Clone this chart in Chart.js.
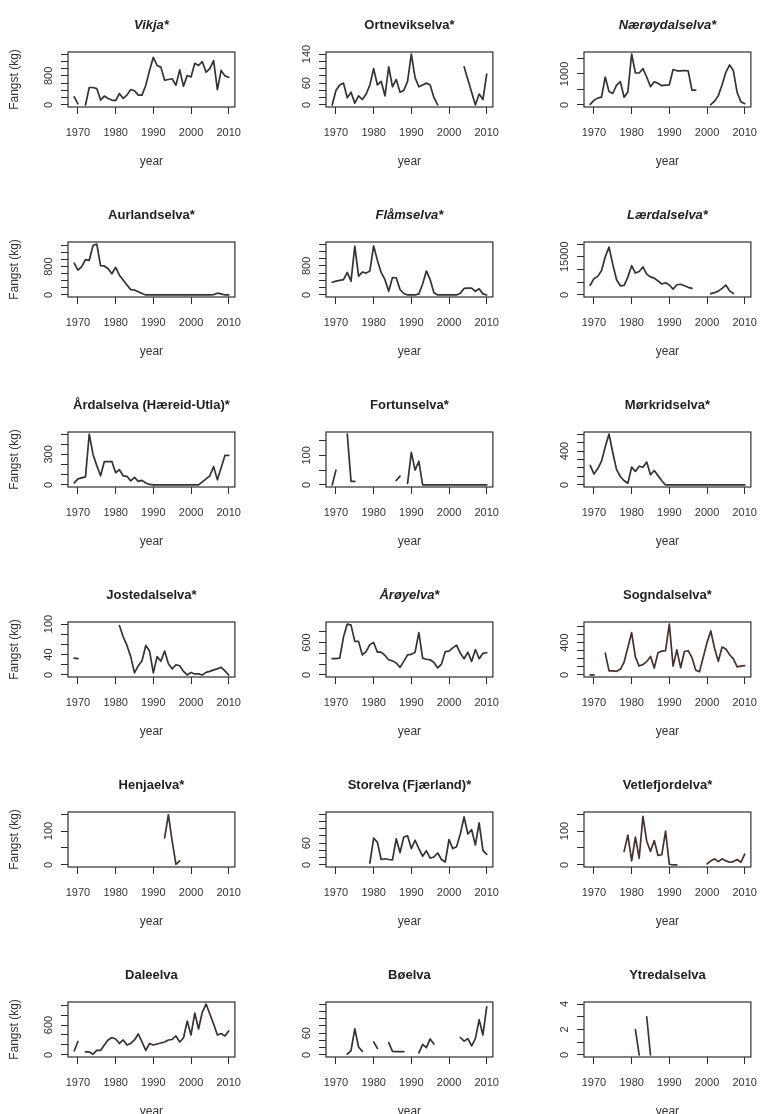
<!DOCTYPE html>
<html><head><meta charset="utf-8">
<script src="https://cdn.jsdelivr.net/npm/chart.js@4.4.1/dist/chart.umd.min.js"></script>
<style>
html,body{margin:0;padding:0;background:#fff;overflow:hidden;width:763px;height:1114px}
#wrap{position:relative;width:763px;height:1114px;overflow:hidden;background:#fff}
#wrap canvas{position:absolute}
</style></head><body><div id="wrap"></div>
<script>
const years = [1969,1970,1971,1972,1973,1974,1975,1976,1977,1978,1979,1980,1981,1982,1983,1984,1985,1986,1987,1988,1989,1990,1991,1992,1993,1994,1995,1996,1997,1998,1999,2000,2001,2002,2003,2004,2005,2006,2007,2008,2009,2010];
const xTicks = [1970,1980,1990,2000,2010];

const riverNames = ["Vikja*","Ortnevikselva*","Nærøydalselva*","Aurlandselva*","Flåmselva*","Lærdalselva*","Årdalselva (Hæreid-Utla)*","Fortunselva*","Mørkridselva*","Jostedalselva*","Årøyelva*","Sogndalselva*","Henjaelva*","Storelva (Fjærland)*","Vetlefjordelva*","Daleelva","Bøelva","Ytredalselva"];

const vikja = [225,30,null,0,480,480,450,135,245,180,135,120,315,180,270,425,390,270,270,540,950,1310,1085,1040,680,700,720,540,965,515,810,770,1145,1085,1190,900,1000,1220,420,950,800,760];
const ortnevik = [0,40,55,60,20,35,5,25,15,30,55,100,55,65,25,105,50,70,35,40,65,140,75,50,55,60,55,20,0,null,null,null,null,null,null,105,70,35,0,30,15,85];
const naeroy = [20,150,220,250,900,430,370,640,750,250,420,1640,1030,1030,1170,900,590,750,700,620,640,650,1140,1100,1100,1110,1100,480,480,null,null,null,10,120,300,650,1050,1290,1100,400,100,40];
const aurland = [900,700,800,1000,980,1400,1440,830,820,740,600,780,560,420,280,150,140,90,40,0,0,0,0,0,0,0,0,0,0,0,0,0,0,0,0,0,0,10,50,30,0,0];
const flam = [350,380,400,420,620,380,1340,520,630,600,660,1350,950,620,420,100,480,470,150,40,0,0,0,30,300,660,420,60,0,0,0,0,0,0,50,180,190,190,100,170,30,0];
const laerdal = [3800,6400,7300,9500,15000,18800,12000,6000,3600,3800,7000,11500,8600,9200,11000,8200,7100,6600,5500,4300,4800,3900,2300,4000,4200,3600,3000,2600,null,null,null,null,500,900,1500,2600,3900,1600,600,null,null,null];
const ardal = [20,60,70,80,500,300,190,90,230,230,230,120,150,90,85,40,75,35,45,20,5,0,0,0,0,0,0,0,0,0,0,0,0,0,30,60,90,180,50,170,290,290];
const fortun = [0,50,null,null,172,12,12,null,null,null,null,null,null,null,null,null,null,15,30,null,5,110,50,80,0,0,0,0,0,0,0,0,0,0,0,0,0,0,0,0,0,0];
const morkrid = [230,130,190,280,450,600,380,180,100,50,20,210,160,220,210,270,120,170,110,50,0,0,0,0,0,0,0,0,0,0,0,0,0,0,0,0,0,0,0,0,0,0];
const josted = [33,32,null,null,null,null,null,null,null,null,null,null,97,75,58,36,4,18,28,58,47,4,36,27,47,22,12,20,18,7,0,5,2,2,0,5,7,10,12,15,8,0];
const aroy = [300,300,310,700,940,920,620,620,370,430,560,600,420,420,360,280,260,220,140,250,370,380,420,780,310,290,280,230,130,200,430,440,500,550,400,300,420,250,470,300,400,410];
const sogndal = [0,0,null,null,270,50,50,45,70,160,340,525,220,110,130,165,230,85,275,295,300,630,110,310,90,290,300,215,60,40,220,400,545,330,170,345,320,250,200,100,110,115];
const henja = [null,null,null,null,null,null,null,null,null,null,null,null,null,null,null,null,null,null,null,null,null,null,null,null,80,148,70,2,12,null,null,null,null,null,null,null,null,null,null,null,null,null];
const storelva = [null,null,null,null,null,null,null,null,null,null,5,74,62,15,17,15,14,72,34,77,80,45,68,45,24,39,19,22,33,15,8,70,45,50,85,132,85,97,55,116,40,29];
const vetlefjord = [null,null,null,null,null,null,null,null,null,40,88,12,82,20,143,70,40,72,28,30,100,2,0,0,null,null,null,null,null,null,null,3,12,18,10,18,12,8,10,16,8,32];
const dale = [80,270,null,60,60,15,90,90,200,300,350,320,230,300,200,230,300,420,260,90,230,200,220,240,260,300,310,380,260,340,680,400,840,520,860,1020,820,620,400,430,380,480];
const boelva = [null,null,null,null,2,12,72,22,10,null,null,36,18,null,null,34,10,9,9,9,null,null,null,6,29,20,44,30,null,null,null,null,null,null,48,38,45,25,45,97,55,132];
const ytredal = [null,null,null,null,null,null,null,null,null,null,null,null,2,0,null,3,0,null,null,null,null,null,null,null,null,null,null,null,null,null,null,null,null,null,null,null,null,null,null,null,null,null];

const allSeries = [vikja,ortnevik,naeroy,aurland,flam,laerdal,ardal,fortun,morkrid,josted,aroy,sogndal,henja,storelva,vetlefjord,dale,boelva,ytredal];

const yTickStep = [200,20,500,200,200,5000,100,50,100,20,200,100,50,20,50,200,20,1];
const yTickTop  = [1400,140,1500,1400,1400,20000,500,150,600,100,800,600,150,140,150,1000,140,4];
const yTickLabels = [[0,800],[0,60,140],[0,1000],[0,800],[0,800],[0,15000],[0,300],[0,100],[0,400],[0,40,100],[0,600],[0,400],[0,100],[0,60],[0,100],[0,600],[0,60],[0,2,4]];

const italicTitle = [true,false,true,false,true,true,false,false,false,false,true,false,false,false,false,false,false,false];
const lineColor = ['#333','#333','#333','#333','#333','#333','#333','#333','#333','#333','#333','#4a302c','#4a302c','#333','#4a302c','#3d302e','#333','#45302c'];

const FONT = '"Liberation Sans", Arial, Helvetica, sans-serif';
const INK = '#2e2e2e';

const framePlugin = {
  id: 'frame',
  afterDraw(chart, args, opts) {
    const ctx = chart.ctx, a = chart.chartArea, ys = chart.scales.y;
    ctx.save();
    ctx.strokeStyle = INK; ctx.lineWidth = 1.2;
    ctx.strokeRect(a.left, a.top, a.right - a.left, a.bottom - a.top);
    ctx.fillStyle = '#333';
    ctx.font = '11px ' + FONT;
    ctx.textAlign = 'center'; ctx.textBaseline = 'middle';
    opts.labels.forEach(v => {
      const py = ys.getPixelForValue(v);
      ctx.save(); ctx.translate(a.left - 19, py); ctx.rotate(-Math.PI / 2);
      ctx.fillText(String(v), 0, 0); ctx.restore();
    });
    ctx.fillStyle = '#222';
    ctx.font = (opts.italic ? 'italic ' : '') + 'bold 13px ' + FONT;
    ctx.fillText(opts.title, (a.left + a.right) / 2, a.top - 27);
    ctx.restore();
  }
};

const wrap = document.getElementById('wrap');
const xLo = Math.min(...years), xHi = Math.max(...years);
const xPad = 0.04 * (xHi - xLo);

allSeries.forEach((vals, i) => {
  const r = Math.floor(i / 3), c = i % 3;
  const cv = document.createElement('canvas');
  cv.width = 254; cv.height = 180;
  cv.style.left = (258 * c) + 'px'; cv.style.top = (190 * r) + 'px';
  wrap.appendChild(cv);
  const ticksY = [];
  for (let v = 0; v <= yTickTop[i] + 1e-9; v += yTickStep[i]) ticksY.push(v);
  const nums = vals.filter(v => v !== null);
  const lo = Math.min(...nums, ticksY[0]);
  const hi = Math.max(...nums, ticksY[ticksY.length - 1]);
  const yPad = 0.04 * (hi - lo);
  const gridOpts = { display: true, drawOnChartArea: false, drawTicks: true, tickLength: 7, color: INK, lineWidth: 1 };
  new Chart(cv, {
    type: 'line',
    data: { datasets: [{
      data: years.map((y, k) => ({ x: y, y: vals[k] })),
      borderColor: lineColor[i], borderWidth: 1.7, pointRadius: 0, pointHoverRadius: 0,
      spanGaps: false, tension: 0, fill: false, borderJoinStyle: 'round', borderCapStyle: 'round'
    }]},
    options: {
      responsive: false, animation: false, devicePixelRatio: 1, events: [],
      layout: { padding: { left: 7.8, right: 18, top: 52, bottom: 10.8 } },
      plugins: {
        legend: { display: false }, tooltip: { enabled: false }, title: { display: false },
        frame: { labels: yTickLabels[i], title: riverNames[i], italic: italicTitle[i] }
      },
      scales: {
        x: {
          type: 'linear', min: xLo - xPad, max: xHi + xPad,
          afterBuildTicks: s => { s.ticks = xTicks.map(v => ({ value: v })); },
          afterFit: s => { s.height = 62.2; },
          grid: gridOpts, border: { display: false },
          ticks: { padding: 12.4, autoSkip: false, maxRotation: 0, minRotation: 0, color: '#333',
                   font: { family: FONT, size: 11 }, callback: v => String(v) },
          title: { display: true, text: 'year', color: '#333', font: { family: FONT, size: 12 }, padding: { top: 0, bottom: 0 } }
        },
        y: {
          type: 'linear', min: lo - yPad, max: hi + yPad,
          afterBuildTicks: s => { s.ticks = ticksY.map(v => ({ value: v })); },
          afterFit: s => { s.width = 60.2; },
          grid: gridOpts, border: { display: false },
          ticks: { display: false },
          title: { display: c === 0, text: 'Fangst (kg)', color: '#333', font: { family: FONT, size: 12 }, padding: { top: 0, bottom: 0 } }
        }
      }
    },
    plugins: [framePlugin]
  });
});
</script>
</body></html>
